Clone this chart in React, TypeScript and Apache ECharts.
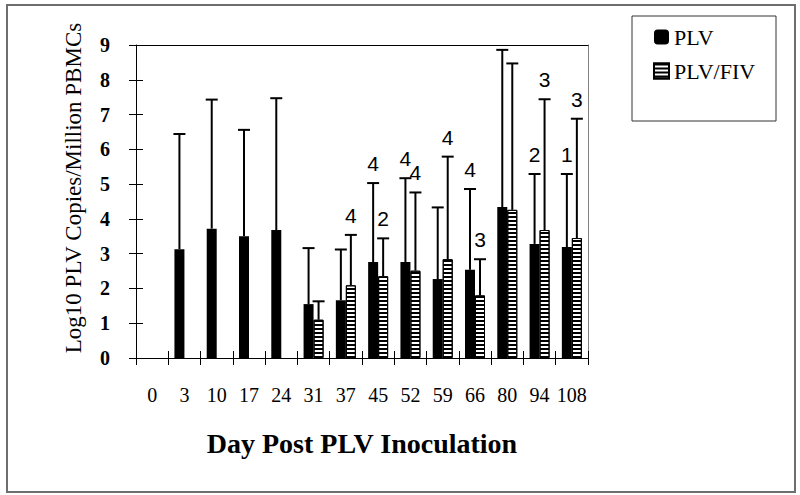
import React, { useEffect, useRef } from "react";
import * as echarts from "echarts";

const days = ["0", "3", "10", "17", "24", "31", "37", "45", "52", "59", "66", "80", "94", "108"];
const plvMean = [null, 3.13, 3.72, 3.5, 3.68, 1.55, 1.66, 2.76, 2.76, 2.27, 2.54, 4.34, 3.28, 3.19];
const plvUpper = [null, 6.44, 7.43, 6.56, 7.47, 3.16, 3.12, 5.03, 5.17, 4.33, 4.86, 8.86, 5.29, 5.29];
const fivMean = [null, null, null, null, null, 1.1, 2.09, 2.35, 2.51, 2.84, 1.8, 4.26, 3.68, 3.45];
const fivUpper = [null, null, null, null, null, 1.63, 3.54, 3.44, 4.76, 5.79, 2.84, 8.47, 7.44, 6.88];
const plvN = ["", "", "", "", "", "", "", "4", "4", "", "4", "", "2", "1"];
const fivN = ["", "", "", "", "", "", "4", "2", "4", "4", "3", "", "3", "3"];
const yTicks = [0, 9, 1];

const SERIF = '"Liberation Serif", "Times New Roman", serif';
const SANS = '"Liberation Sans", Arial, sans-serif';

function errData(mean: (number | null)[], upper: (number | null)[]) {
  const out: number[][] = [];
  mean.forEach((m, i) => {
    const u = upper[i];
    if (m != null && u != null) out.push([i, m, u]);
  });
  return out;
}

function makeErrSeries(name: string, mean: (number | null)[], upper: (number | null)[], labels: string[], offset: number) {
  return {
    type: "custom",
    name: name + "-err",
    xAxisIndex: 0,
    yAxisIndex: 0,
    z: 5,
    silent: true,
    data: errData(mean, upper),
    renderItem: (params: any, api: any) => {
      const idx = api.value(0);
      const m = api.value(1);
      const u = api.value(2);
      const pb = api.coord([idx, m]);
      const pt = api.coord([idx, u]);
      const x = pb[0] + offset;
      const children: any[] = [
        {
          type: "line",
          shape: { x1: x, y1: pb[1], x2: x, y2: pt[1] },
          style: { stroke: "#000", lineWidth: 2 },
        },
        {
          type: "line",
          shape: { x1: x - 6, y1: pt[1], x2: x + 6, y2: pt[1] },
          style: { stroke: "#000", lineWidth: 2 },
        },
      ];
      const lab = labels[idx];
      if (lab) {
        children.push({
          type: "text",
          style: {
            text: lab,
            x: x,
            y: pt[1] - 9,
            align: "center",
            verticalAlign: "bottom",
            font: "21px " + SANS,
            fill: "#000",
          },
        });
      }
      return { type: "group", children };
    },
  };
}

export default function App() {
  const ref = useRef<HTMLDivElement>(null);
  useEffect(() => {
    if (!ref.current) return;
    const chart = echarts.init(ref.current, null, { renderer: "svg" });
    const [yMin, yMax, yInt] = yTicks;
    const option: any = {
      animation: false,
      backgroundColor: "#fff",
      grid: { left: 136, top: 45, width: 452, height: 313, containLabel: false },
      legend: {
        orient: "vertical",
        left: 653,
        top: 26,
        padding: 0,
        itemGap: 12,
        itemWidth: 15,
        itemHeight: 15,
        textStyle: { fontFamily: SERIF, fontSize: 22, color: "#000", lineHeight: 22 },
        data: [
          { name: "PLV", icon: "roundRect" },
          { name: "PLV/FIV", icon: "rect" },
        ],
      },
      xAxis: [
        {
          type: "category",
          data: days,
          position: "bottom",
          axisLine: { show: true, onZero: false, lineStyle: { color: "#000", width: 1 } },
          axisTick: { show: true, inside: false, length: 7, lineStyle: { color: "#000", width: 1 } },
          axisLabel: { interval: 0, fontFamily: SERIF, fontSize: 20, color: "#000", margin: 27 },
          splitLine: { show: false },
        },
        {
          type: "category",
          data: days,
          position: "bottom",
          axisLine: { show: false, onZero: false },
          axisTick: { show: true, inside: true, length: 7, lineStyle: { color: "#000", width: 1 } },
          axisLabel: { show: false },
          splitLine: { show: false },
        },
        {
          type: "category",
          data: days,
          position: "top",
          axisLine: { show: true, onZero: false, lineStyle: { color: "#000", width: 1 } },
          axisTick: { show: false },
          axisLabel: { show: false },
          splitLine: { show: false },
        },
      ],
      yAxis: [
        {
          type: "value",
          min: yMin,
          max: yMax,
          interval: yInt,
          position: "left",
          axisLine: { show: true, onZero: false, lineStyle: { color: "#000", width: 1 } },
          axisTick: { show: true, inside: false, length: 7, lineStyle: { color: "#000", width: 1 } },
          axisLabel: { fontFamily: SERIF, fontSize: 20, fontWeight: "bold", color: "#000", margin: 26 },
          splitLine: { show: false },
        },
        {
          type: "value",
          min: yMin,
          max: yMax,
          interval: yInt,
          position: "left",
          axisLine: { show: false, onZero: false },
          axisTick: { show: true, inside: true, length: 7, lineStyle: { color: "#000", width: 1 } },
          axisLabel: { show: false },
          splitLine: { show: false },
        },
        {
          type: "value",
          min: yMin,
          max: yMax,
          interval: yInt,
          position: "right",
          axisLine: { show: true, onZero: false, lineStyle: { color: "#808080", width: 1 } },
          axisTick: { show: false },
          axisLabel: { show: false },
          splitLine: { show: false },
        },
      ],
      series: [
        {
          type: "bar",
          name: "PLV",
          data: plvMean,
          barWidth: 10,
          barGap: "0%",
          itemStyle: { color: "#000" },
        },
        {
          type: "bar",
          name: "PLV/FIV",
          data: fivMean,
          barWidth: 10,
          barGap: "0%",
          itemStyle: {
            color: "#fff",
            borderColor: "#000",
            borderWidth: 1,
            decal: {
              symbol: "rect",
              symbolSize: 1,
              color: "#000",
              backgroundColor: "#fff",
              dashArrayX: [1, 0],
              dashArrayY: [2, 2],
              rotation: 0,
            },
          },
        },
        makeErrSeries("PLV", plvMean, plvUpper, plvN, -5),
        makeErrSeries("PLV/FIV", fivMean, fivUpper, fivN, 5),
      ],
      graphic: [
        {
          type: "rect",
          shape: { x: 7, y: 5, width: 788, height: 487 },
          style: { fill: "none", stroke: "#6e6e6e", lineWidth: 2 },
          silent: true,
        },
        {
          type: "rect",
          shape: { x: 632, y: 16, width: 144, height: 105 },
          style: { fill: "none", stroke: "#333", lineWidth: 1 },
          silent: true,
        },
        {
          type: "text",
          x: 73,
          y: 188,
          rotation: Math.PI / 2,
          style: {
            text: "Log10 PLV Copies/Million PBMCs",
            font: "23px " + SERIF,
            fill: "#000",
            textAlign: "center",
            textVerticalAlign: "middle",
            align: "center",
            verticalAlign: "middle",
          },
        },
        {
          type: "text",
          x: 362,
          y: 443,
          style: {
            text: "Day Post PLV Inoculation",
            font: "bold 28px " + SERIF,
            fill: "#000",
            textAlign: "center",
            textVerticalAlign: "middle",
            align: "center",
            verticalAlign: "middle",
          },
        },
      ],
    };
    chart.setOption(option);
    return () => chart.dispose();
  }, []);
  return (
    <div
      ref={ref}
      style={{ position: "absolute", left: 0, top: 0, width: 800, height: 495 }}
    />
  );
}
